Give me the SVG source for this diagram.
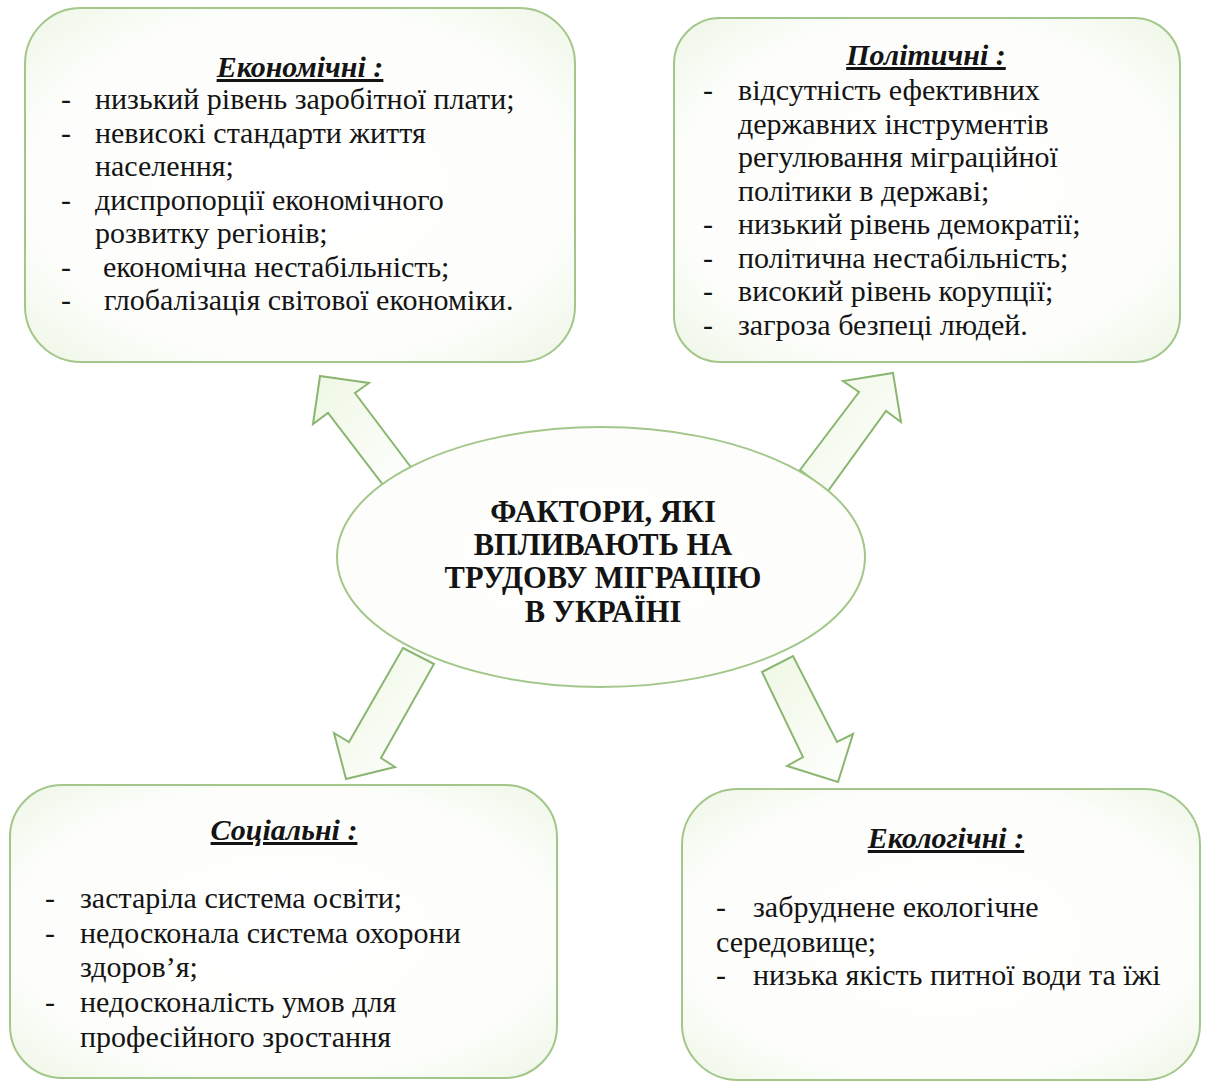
<svg xmlns="http://www.w3.org/2000/svg" width="1208" height="1082" viewBox="0 0 1208 1082">
  <defs>
    <radialGradient id="boxFill" cx="50%" cy="50%" r="70%">
      <stop offset="0%" stop-color="#ffffff"/>
      <stop offset="70%" stop-color="#fdfefb"/>
      <stop offset="100%" stop-color="#eef6e6"/>
    </radialGradient>
    <linearGradient id="arrowFill" x1="0" y1="0" x2="1" y2="1">
      <stop offset="0%" stop-color="#eef7e3"/>
      <stop offset="100%" stop-color="#ffffff"/>
    </linearGradient>
    <style>
      .box { fill: url(#boxFill); stroke: #a3c78a; stroke-width: 2; }
      .arrow { fill: url(#arrowFill); stroke: #8bb672; stroke-width: 2; stroke-linejoin: miter; }
      .t { font-family: "Liberation Serif", "Times New Roman", serif; font-size: 30px; fill: #141414; }
      .title { font-family: "Liberation Serif", "Times New Roman", serif; font-size: 30px; font-weight: bold; font-style: italic; text-decoration: underline; fill: #141414; text-anchor: middle; }
      .center { font-family: "Liberation Serif", "Times New Roman", serif; font-size: 30.5px; font-weight: bold; fill: #141414; text-anchor: middle; }
    </style>
  </defs>
  <rect width="1208" height="1082" fill="#ffffff"/>

  <g id="connectors">
    <polygon class="arrow" points="320,376 369,383 355,393 413,470 387,490 328,413 313,424"/>
    <polygon class="arrow" points="893,373 901,422 886,411 828,491 800,470 859,392 843,381"/>
    <polygon class="arrow" points="403,648 434,664 381,758 395,767 346,779 334,733 349,742"/>
    <polygon class="arrow" points="762,672 793,656 837,742 853,734 838,782 787,766 803,757"/>
  </g>

  <g id="node-center">
    <ellipse class="box" cx="601" cy="557" rx="264" ry="130"/>
    <text class="center" x="603" y="522">ФАКТОРИ, ЯКІ</text>
    <text class="center" x="603" y="555">ВПЛИВАЮТЬ НА</text>
    <text class="center" x="603" y="588">ТРУДОВУ МІГРАЦІЮ</text>
    <text class="center" x="603" y="622">В УКРАЇНІ</text>
  </g>

  <g id="node-economic">
    <rect class="box" x="25" y="8" width="550" height="354" rx="56" ry="56"/>
    <text class="title" x="300" y="77">Економічні :</text>
    <text class="t" x="61" y="109">-</text><text class="t" x="95" y="109">низький рівень заробітної плати;</text>
    <text class="t" x="61" y="142.5">-</text><text class="t" x="95" y="142.5">невисокі стандарти життя</text>
    <text class="t" x="95" y="176">населення;</text>
    <text class="t" x="61" y="209.5">-</text><text class="t" x="95" y="209.5">диспропорції економічного</text>
    <text class="t" x="95" y="243">розвитку регіонів;</text>
    <text class="t" x="61" y="276.5">-</text><text class="t" x="103" y="276.5">економічна нестабільність;</text>
    <text class="t" x="61" y="310">-</text><text class="t" x="104" y="310">глобалізація світової економіки.</text>
  </g>

  <g id="node-political">
    <rect class="box" x="674" y="18" width="506" height="344" rx="46" ry="46"/>
    <text class="title" x="926" y="65">Політичні :</text>
    <text class="t" x="703" y="100">-</text><text class="t" x="738" y="100">відсутність ефективних</text>
    <text class="t" x="738" y="133.5">державних інструментів</text>
    <text class="t" x="738" y="167">регулювання міграційної</text>
    <text class="t" x="738" y="200.5">політики в державі;</text>
    <text class="t" x="703" y="234">-</text><text class="t" x="738" y="234">низький рівень демократії;</text>
    <text class="t" x="703" y="267.5">-</text><text class="t" x="738" y="267.5">політична нестабільність;</text>
    <text class="t" x="703" y="301">-</text><text class="t" x="738" y="301">високий рівень корупції;</text>
    <text class="t" x="703" y="334.5">-</text><text class="t" x="738" y="334.5">загроза безпеці людей.</text>
  </g>

  <g id="node-social">
    <rect class="box" x="10" y="785" width="547" height="293" rx="52" ry="52"/>
    <text class="title" x="284" y="840">Соціальні :</text>
    <text class="t" x="45" y="908">-</text><text class="t" x="80" y="908">застаріла система освіти;</text>
    <text class="t" x="45" y="943">-</text><text class="t" x="80" y="943">недосконала система охорони</text>
    <text class="t" x="80" y="977">здоров’я;</text>
    <text class="t" x="45" y="1012">-</text><text class="t" x="80" y="1012">недосконалість умов для</text>
    <text class="t" x="80" y="1047">професійного зростання</text>
  </g>

  <g id="node-ecological">
    <rect class="box" x="682" y="789" width="518" height="291" rx="56" ry="56"/>
    <text class="title" x="946" y="848">Екологічні :</text>
    <text class="t" x="716" y="917">-</text><text class="t" x="753" y="917">забруднене екологічне</text>
    <text class="t" x="716" y="952">середовище;</text>
    <text class="t" x="716" y="985">-</text><text class="t" x="753" y="985">низька якість питної води та їжі</text>
  </g>
</svg>
